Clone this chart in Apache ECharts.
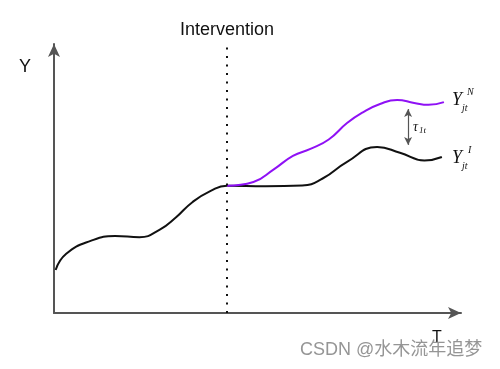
<!DOCTYPE html>
<html><head><meta charset="utf-8">
<script src="https://cdn.jsdelivr.net/npm/echarts@6/dist/echarts.min.js"></script>
<style>html,body{margin:0;padding:0;background:#fff}#c{width:500px;height:369px}</style>
</head><body><div id="c"></div>
<script>
// Observed outcome (black) : [t, y]
const observedT = [0.4,3.0,9.0,15.0,21.0,26.0,30.0,34.0,38.5,42.5,52.0,61.0,66.0,72.0,79.4,85.0,91.0,95.3];
const observedY = [16.0,22.0,26.8,28.6,28.2,31.0,35.6,41.2,45.4,47.3,47.1,47.4,50.0,56.2,61.7,59.6,56.7,58.0];
// Counterfactual outcome (purple)
const counterT = [42.5,49.0,54.0,58.7,63.0,67.5,72.0,76.0,80.1,84.3,88.5,92.0,95.8];
const counterY = [47.3,48.7,53.4,58.4,61.0,64.5,70.6,74.7,77.7,79.2,78.1,77.4,78.4];
const interventionT = 42.5;
const gapArrow = [[87.0, 75.8],[87.0, 62.5]];

const chart = echarts.init(document.getElementById('c'), null, {renderer:'canvas'});
const zip = (a,b)=>a.map((v,i)=>[v,b[i]]);
const axisCommon = {
  axisLine:{show:true,lineStyle:{color:'#555',width:2},symbol:['none','arrow'],symbolSize:[9,13],symbolOffset:[0,0]},
  axisTick:{show:false},axisLabel:{show:false},splitLine:{show:false}
};
chart.setOption({
  animation:false,
  grid:{left:54,right:39,top:44,bottom:56},
  xAxis:Object.assign({type:'value',min:0,max:100},axisCommon),
  yAxis:Object.assign({type:'value',min:0,max:100},axisCommon),
  series:[
    {type:'line',data:zip(observedT,observedY),smooth:0.5,showSymbol:false,
     lineStyle:{color:'#111',width:2},
     markLine:{silent:true,symbol:['none','none'],label:{show:false},
       lineStyle:{color:'#111',type:[2,6.5],width:2},
       data:[{xAxis:interventionT}]}},
    {type:'line',data:zip(counterT,counterY),smooth:0.5,showSymbol:false,
     lineStyle:{color:'#8f11f5',width:2},
     markLine:{silent:true,symbol:['arrow','arrow'],symbolSize:[6,8],label:{show:false},
       lineStyle:{color:'#555',type:'solid',width:1.2},
       data:[[{coord:gapArrow[0]},{coord:gapArrow[1]}]]}}
  ],
  graphic:[
    {type:'text',left:180,top:21,style:{text:'Intervention',font:'18px "Liberation Sans", Arial, sans-serif',fill:'#111'}},
    {type:'text',x:25,y:67,style:{text:'Y',font:'18px "Liberation Sans", Arial, sans-serif',fill:'#111',align:'center',verticalAlign:'middle'}},
    {type:'text',x:437,y:338,style:{text:'T',font:'16px "Liberation Sans", Arial, sans-serif',fill:'#111',align:'center',verticalAlign:'middle'}},
    {type:'text',x:452,y:100,style:{text:'Y',font:'italic 18px "Liberation Serif", serif',fill:'#111',verticalAlign:'middle'}},
    {type:'text',x:467,y:92,style:{text:'N',font:'italic 10px "Liberation Serif", serif',fill:'#111',verticalAlign:'middle'}},
    {type:'text',x:462,y:108,style:{text:'jt',font:'italic 10px "Liberation Serif", serif',fill:'#111',verticalAlign:'middle'}},
    {type:'text',x:452,y:158,style:{text:'Y',font:'italic 18px "Liberation Serif", serif',fill:'#111',verticalAlign:'middle'}},
    {type:'text',x:468,y:150,style:{text:'I',font:'italic 10px "Liberation Serif", serif',fill:'#111',verticalAlign:'middle'}},
    {type:'text',x:462,y:166,style:{text:'jt',font:'italic 10px "Liberation Serif", serif',fill:'#111',verticalAlign:'middle'}},
    {type:'text',x:413,y:127,style:{text:'τ',font:'italic 14px "Liberation Serif", serif',fill:'#111',verticalAlign:'middle'}},
    {type:'text',x:419,y:131,style:{text:'1t',font:'italic 9px "Liberation Serif", serif',fill:'#111',verticalAlign:'middle'}},
    {type:'text',x:300,y:350,style:{text:'CSDN @水木流年追梦',font:'18px "Liberation Sans", "Noto Sans CJK SC", sans-serif',fill:'rgba(130,130,130,0.85)',verticalAlign:'middle'}}
  ]
});
</script></body></html>
